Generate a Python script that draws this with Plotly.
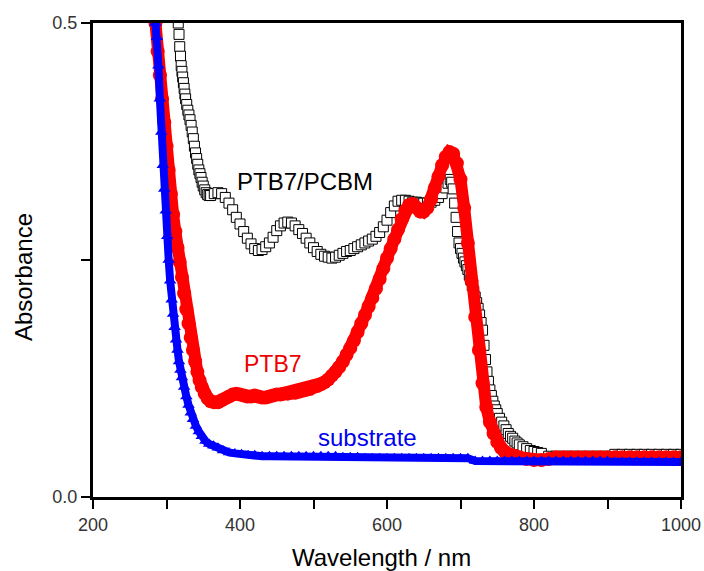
import plotly.graph_objects as go

# ---------------- data ----------------
# PTB7/PCBM blend film (open squares)
wl_blend = [316, 317, 318, 319, 320, 321, 322, 323, 324, 325, 326, 327.5, 329, 330.5, 332,
            333.5, 335, 336.5, 338, 339.5, 341, 342.5, 344, 345.5, 347, 348.5, 350, 352, 354,
            356, 358, 360, 365, 370, 375, 380, 385, 390, 395, 400, 405, 410, 415, 420, 425,
            430, 435, 440, 445, 450, 455, 460, 465, 470, 475, 480, 485, 490, 495, 500, 505,
            510, 515, 520, 525, 530, 535, 540, 545, 550, 555, 560, 565, 570, 575, 580,
            585, 590, 595, 600, 605, 610, 615, 620, 625, 630, 635, 640, 645, 650, 655,
            660, 665, 670, 675, 680, 683, 686, 688, 690, 692, 694, 696, 698, 700, 702,
            704, 706, 708, 710, 712, 714, 716, 718, 720, 722, 724, 726, 728, 730, 732,
            734, 736, 738, 740, 742, 744, 746, 748, 750, 753, 756, 759, 762, 765, 768,
            771, 774, 777, 780, 785, 790, 795, 800, 805, 810, 820, 830, 840, 850, 860,
            870, 880, 890, 900, 910, 920, 930, 940, 950, 960, 970, 980, 990, 1000]
abs_blend = [0.500, 0.488, 0.475, 0.465, 0.455, 0.449, 0.443, 0.437, 0.431, 0.425, 0.420, 0.414, 0.408, 0.403, 0.398,
             0.392, 0.385, 0.378, 0.370, 0.363, 0.357, 0.351, 0.345, 0.341, 0.337, 0.332, 0.328, 0.324, 0.321,
             0.319, 0.318, 0.318, 0.320, 0.321, 0.320, 0.316, 0.310, 0.303, 0.295, 0.288, 0.280, 0.273, 0.267, 0.262, 0.260,
             0.261, 0.264, 0.268, 0.274, 0.281, 0.286, 0.289, 0.290, 0.289, 0.286, 0.282, 0.278, 0.273, 0.268, 0.263, 0.259,
             0.256, 0.254, 0.253, 0.252, 0.253, 0.255, 0.257, 0.259, 0.260, 0.262, 0.264, 0.266, 0.268, 0.270, 0.272,
             0.275, 0.279, 0.285, 0.292, 0.300, 0.307, 0.312, 0.313, 0.313, 0.312, 0.311, 0.311, 0.310, 0.310, 0.310,
             0.311, 0.313, 0.316, 0.320, 0.326, 0.331, 0.335, 0.332, 0.325, 0.310, 0.295, 0.280, 0.268, 0.262, 0.257,
             0.252, 0.248, 0.244, 0.240, 0.234, 0.229, 0.223, 0.217, 0.211, 0.205, 0.199, 0.192, 0.184, 0.176, 0.160,
             0.145, 0.132, 0.122, 0.113, 0.107, 0.101, 0.096, 0.092, 0.088, 0.083, 0.079, 0.075, 0.071, 0.067, 0.064,
             0.062, 0.059, 0.057, 0.055, 0.053, 0.051, 0.049, 0.048, 0.047, 0.046, 0.043, 0.043, 0.043, 0.043, 0.043,
             0.043, 0.043, 0.043, 0.043, 0.045, 0.045, 0.045, 0.045, 0.045, 0.045, 0.045, 0.045, 0.045, 0.045]

# PTB7 film (filled red circles)
wl_ptb7 = [285, 288, 291, 294, 297, 300, 303, 306, 309, 312, 315, 318, 321, 324, 327,
           330, 333, 336, 339, 342, 345, 348, 352, 356, 360, 365, 370, 375, 380, 385,
           390, 395, 400, 405, 410, 415, 420, 425, 430, 435, 440, 445, 450, 455, 460,
           465, 470, 475, 480, 485, 490, 495, 500, 505, 510, 515, 520, 525, 530, 535,
           540, 545, 550, 555, 560, 565, 570, 575, 580, 585, 590, 595, 600, 605, 610,
           615, 620, 625, 630, 635, 640, 645, 650, 655, 660, 665, 670, 675, 680, 685,
           690, 695, 700, 705, 710, 715, 720, 725, 730, 735, 740, 745, 750, 755, 760,
           765, 770, 775, 780, 790, 800, 810, 820, 830, 840, 850, 860, 870, 880, 890,
           900, 910, 920, 930, 940, 950, 960, 970, 980, 990, 1000]
abs_ptb7 = [0.500, 0.470, 0.445, 0.420, 0.395, 0.370, 0.345, 0.320, 0.298, 0.280, 0.263, 0.248, 0.232, 0.215, 0.198,
            0.183, 0.168, 0.155, 0.143, 0.132, 0.123, 0.116, 0.109, 0.104, 0.101, 0.100, 0.100, 0.102, 0.104, 0.106,
            0.108, 0.109, 0.108, 0.107, 0.106, 0.106, 0.107, 0.106, 0.105, 0.105, 0.106, 0.107, 0.108, 0.108, 0.109,
            0.109, 0.110, 0.110, 0.111, 0.112, 0.113, 0.114, 0.116, 0.117, 0.119, 0.121, 0.124, 0.128, 0.132, 0.137,
            0.143, 0.150, 0.157, 0.165, 0.174, 0.183, 0.192, 0.201, 0.210, 0.220, 0.230, 0.241, 0.252, 0.262, 0.272,
            0.282, 0.293, 0.302, 0.308, 0.309, 0.305, 0.301, 0.301, 0.305, 0.314, 0.326, 0.338, 0.350, 0.359, 0.364,
            0.362, 0.352, 0.335, 0.305, 0.268, 0.228, 0.190, 0.155, 0.120, 0.095, 0.079, 0.067, 0.058, 0.052, 0.048,
            0.045, 0.044, 0.043, 0.042, 0.040, 0.039, 0.039, 0.040, 0.042, 0.042, 0.042, 0.042, 0.042, 0.042, 0.042,
            0.042, 0.042, 0.042, 0.042, 0.042, 0.042, 0.042, 0.042, 0.042, 0.042, 0.042]

# bare substrate (filled blue triangles)
wl_sub = [285, 287, 289, 291, 293, 295, 297, 299, 301, 303, 305, 307, 309, 311, 313,
          315, 317, 319, 321, 324, 327, 330, 333, 336, 340, 344, 348, 353, 358, 364,
          370, 377, 385, 393, 402, 411, 420, 430, 440, 450, 460, 470, 480, 490, 500,
          510, 520, 530, 540, 550, 560, 570, 580, 590, 600, 610, 620, 630, 640, 650,
          660, 670, 680, 690, 700, 710, 720, 730, 740, 750, 760, 770, 780, 790, 800,
          810, 820, 830, 840, 850, 860, 870, 880, 890, 900, 910, 920, 930, 940, 950,
          960, 970, 980, 990, 1000]
abs_sub = [0.500, 0.485, 0.455, 0.420, 0.385, 0.350, 0.325, 0.302, 0.275, 0.250, 0.228, 0.208, 0.193, 0.179, 0.166,
           0.155, 0.143, 0.134, 0.126, 0.116, 0.106, 0.097, 0.089, 0.082, 0.075, 0.069, 0.064, 0.059, 0.056, 0.054,
           0.052, 0.049, 0.047, 0.046, 0.045, 0.044, 0.044, 0.043, 0.043, 0.043, 0.043, 0.043, 0.043, 0.043, 0.043,
           0.043, 0.043, 0.043, 0.042, 0.042, 0.042, 0.041, 0.041, 0.041, 0.041, 0.041, 0.041, 0.041, 0.041, 0.041,
           0.041, 0.041, 0.041, 0.041, 0.041, 0.041, 0.038, 0.038, 0.038, 0.038, 0.038, 0.038, 0.038, 0.038, 0.038,
           0.038, 0.038, 0.038, 0.038, 0.038, 0.038, 0.038, 0.038, 0.038, 0.038, 0.037, 0.037, 0.037, 0.037, 0.037,
           0.037, 0.037, 0.037, 0.037, 0.037]

x_major = [200, 400, 600, 800, 1000]
x_minor = [300, 500, 700, 900]
y_major = [0.0, 0.5]
y_major_text = ["0.0", "0.5"]
y_minor = [0.25]

FONT = "Liberation Sans, Arial, sans-serif"

fig = go.Figure()
fig.add_trace(go.Scatter(
    x=wl_blend, y=abs_blend, mode="markers", name="PTB7/PCBM",
    marker=dict(symbol="square", size=10, color="white",
                line=dict(color="black", width=1))))
fig.add_trace(go.Scatter(
    x=wl_ptb7, y=abs_ptb7, mode="lines+markers", name="PTB7",
    line=dict(color="#ff0000", width=12),
    marker=dict(symbol="circle", size=14, color="#ff0000",
                line=dict(width=0))))
fig.add_trace(go.Scatter(
    x=wl_sub, y=abs_sub, mode="lines+markers", name="substrate",
    line=dict(color="#0000ff", width=8),
    marker=dict(symbol="triangle-up", size=11, color="#0000ff",
                line=dict(width=0))))

axis_common = dict(showline=True, linecolor="black", linewidth=3, mirror=True,
                   showgrid=False, zeroline=False, ticks="outside", ticklen=9,
                   tickwidth=2, tickcolor="black", automargin=False,
                   tickfont=dict(family=FONT, size=18, color="#333333"))

fig.update_xaxes(range=[200, 1000], tickvals=x_major,
                 minor=dict(tickvals=x_minor, ticks="outside", ticklen=9,
                            tickwidth=2, tickcolor="black"),
                 **axis_common)
fig.update_yaxes(range=[0, 0.5], tickvals=y_major, ticktext=y_major_text,
                 minor=dict(tickvals=y_minor, ticks="outside", ticklen=9,
                            tickwidth=2, tickcolor="black"),
                 **axis_common)

annotations = [
    dict(text="PTB7/PCBM", x=488, y=0.333, xref="x", yref="y", showarrow=False,
         font=dict(family=FONT, size=24, color="black")),
    dict(text="PTB7", x=445, y=0.140, xref="x", yref="y", showarrow=False,
         font=dict(family=FONT, size=23, color="#ee0000")),
    dict(text="substrate", x=573, y=0.063, xref="x", yref="y", showarrow=False,
         font=dict(family=FONT, size=24, color="#0000ee")),
    dict(text="Wavelength / nm", x=0.49, y=-0.127, xref="paper", yref="paper",
         showarrow=False, xanchor="center", yanchor="middle",
         font=dict(family=FONT, size=24, color="black")),
    dict(text="Absorbance", x=-0.119, y=0.464, xref="paper", yref="paper",
         showarrow=False, textangle=-90, xanchor="center", yanchor="middle",
         font=dict(family=FONT, size=24, color="black")),
]

fig.update_layout(
    width=704, height=571,
    margin=dict(l=93, r=23, t=23, b=74, autoexpand=False),
    paper_bgcolor="white", plot_bgcolor="white",
    showlegend=False,
    annotations=annotations,
    font=dict(family=FONT),
)

# remove the default page margin so the figure sits at the window's top-left
fig.write_html("out.html", config={"displayModeBar": False},
               post_script="document.body.style.margin='0';document.body.style.overflow='hidden';")
